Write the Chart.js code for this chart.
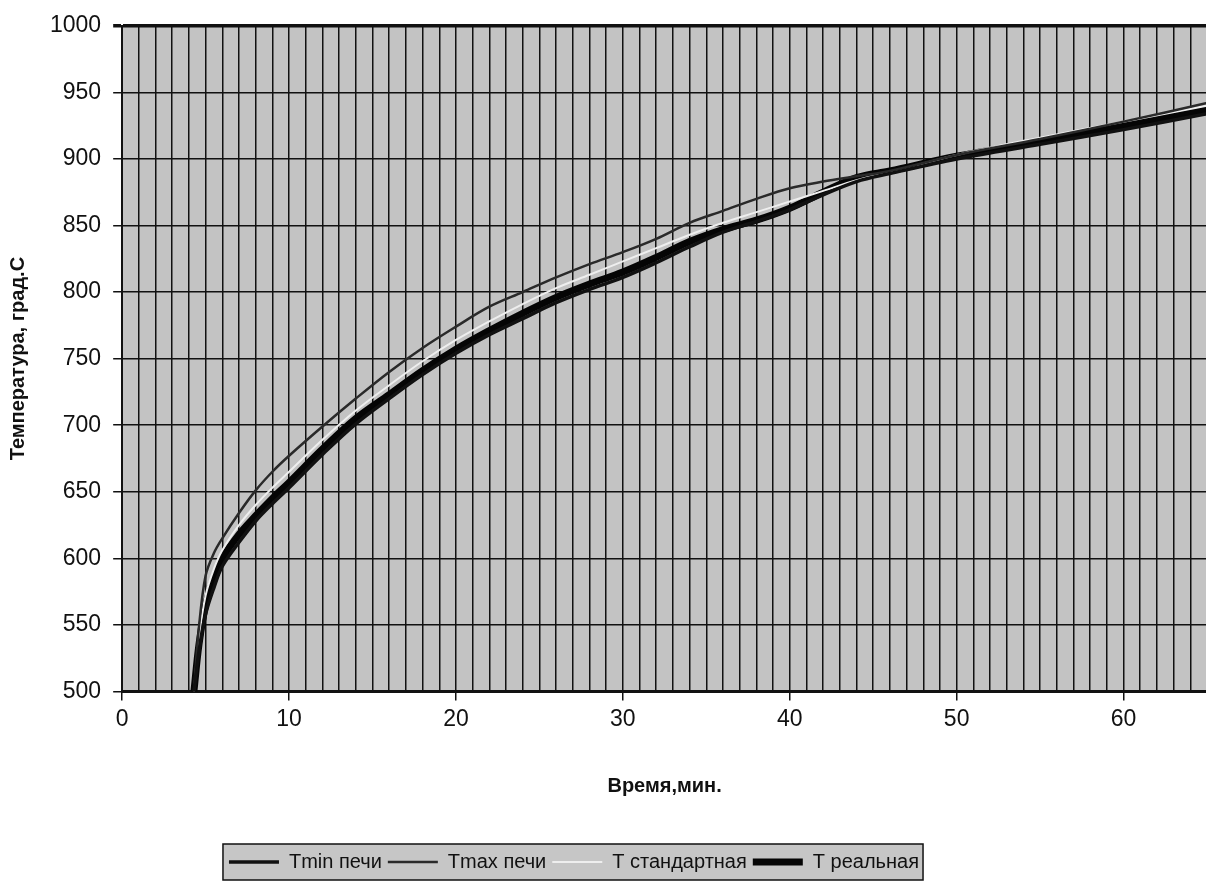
<!DOCTYPE html>
<html>
<head>
<meta charset="utf-8">
<title>Температура печи</title>
<script src="https://cdn.jsdelivr.net/npm/chart.js@4/dist/chart.umd.min.js"></script>
<style>
  html, body { margin: 0; padding: 0; background: #fff; overflow: hidden; }
  /* the original is cropped on the right, so the canvas runs a few px past the window */
  #wrap { width: 1212px; height: 888px; position: relative; }
</style>
</head>
<body>
<div id="wrap"><canvas id="tempChart"></canvas></div>
<script>
// Time, min
const minutes = [4.3, 4.6, 5, 5.5, 6, 7, 8, 9, 10, 12, 14, 16, 18, 20, 22, 24, 26, 28, 30, 32, 34, 36, 38, 40, 42, 44, 46, 50, 55, 60, 65];

// Temperatures, deg C
const tMinPechi = [500, 530, 558, 578, 594, 612, 628, 641, 653, 678, 701, 720, 738, 754, 768, 780, 792, 802, 811, 822, 834, 845, 853, 862, 873, 883, 889, 900, 911, 922, 934];
const tMaxPechi = [500, 548, 587, 604, 615, 634, 651, 665, 677, 699, 720, 740, 758, 774, 789, 800, 811, 821, 830, 840, 852, 861, 870, 878, 883, 887, 891, 903, 915, 928, 942];
const tStandard = [500, 540, 572, 592, 606, 625, 640, 653, 665, 689, 711, 730, 748, 764, 778, 791, 803, 813, 823, 833, 843, 852, 860, 868, 876, 884, 890, 903, 916, 928, 940];
const tReal = [500, 535, 565, 585, 600, 618, 632, 645, 657, 682, 705, 723, 741, 757, 771, 784, 796, 806, 815, 826, 838, 847, 854, 863, 875, 886, 891, 902, 913, 925, 937];

const seriesNames = ["Tmin печи", "Tmax печи", "T стандартная", "T реальная"];

const toPoints = arr => arr.map((v, i) => ({ x: minutes[i], y: v }));

const fontFamily = "'Liberation Sans', Arial, sans-serif";

// gray plot background + frame round the legend
const backdrop = {
  id: "backdrop",
  afterLayout(chart) {
    // legend sits a bit left of the page centre in the original
    chart.legend.right -= 70;
  },
  beforeDraw(chart) {
    const { ctx, chartArea } = chart;
    ctx.save();
    ctx.fillStyle = "#c3c3c3";
    ctx.fillRect(chartArea.left, chartArea.top, chartArea.right - chartArea.left, chartArea.bottom - chartArea.top);

    const boxes = chart.legend.legendHitBoxes;
    if (boxes && boxes.length) {
      const x0 = Math.min(...boxes.map(b => b.left)) - 6;
      const x1 = Math.max(...boxes.map(b => b.left + b.width)) + 4;
      const y0 = Math.min(...boxes.map(b => b.top)) - 8;
      const y1 = Math.max(...boxes.map(b => b.top + b.height)) + 8;
      ctx.fillStyle = "#c6c6c6";
      ctx.fillRect(x0, y0, x1 - x0, y1 - y0);
      ctx.strokeStyle = "#111";
      ctx.lineWidth = 1.5;
      ctx.strokeRect(x0, y0, x1 - x0, y1 - y0);
    }
    ctx.restore();
  }
};

new Chart(document.getElementById("tempChart"), {
  type: "line",
  data: {
    datasets: [
      {
        label: seriesNames[0],
        data: toPoints(tMinPechi),
        borderColor: "#111111",
        borderWidth: 3.5
      },
      {
        label: seriesNames[1],
        data: toPoints(tMaxPechi),
        borderColor: "#2a2a2a",
        borderWidth: 2.5
      },
      {
        label: seriesNames[2],
        data: toPoints(tStandard),
        borderColor: "#eeeeee",
        borderWidth: 2
      },
      {
        label: seriesNames[3],
        data: toPoints(tReal),
        borderColor: "#050505",
        borderWidth: 7
      }
    ]
  },
  options: {
    responsive: true,
    maintainAspectRatio: false,
    animation: false,
    layout: {
      padding: { top: 8, right: 0, bottom: 6, left: 6 }
    },
    elements: {
      point: { radius: 0 },
      line: { tension: 0.35, fill: false }
    },
    plugins: {
      legend: {
        position: "bottom",
        labels: {
          usePointStyle: true,
          pointStyle: "line",
          pointStyleWidth: 50,
          boxHeight: 10,
          padding: 6,
          color: "#111",
          font: { family: fontFamily, size: 20 }
        }
      },
      tooltip: { enabled: false }
    },
    scales: {
      x: {
        type: "linear",
        min: 0,
        max: 65,
        border: { color: "#111", width: 3 },
        grid: {
          color: "#111",
          lineWidth: 1.5,
          drawTicks: true,
          tickLength: 9,
          tickColor: ctx => (ctx.tick && ctx.tick.value % 10 === 0 ? "#111" : "rgba(0,0,0,0)")
        },
        ticks: {
          stepSize: 1,
          autoSkip: false,
          maxRotation: 0,
          padding: 5,
          color: "#111",
          font: { family: fontFamily, size: 23 },
          callback: v => (v % 10 === 0 ? String(v) : "")
        },
        title: {
          display: true,
          text: "Время,мин.",
          color: "#111",
          font: { family: fontFamily, size: 20, weight: "bold" },
          padding: { top: 36, bottom: 48 }
        }
      },
      y: {
        min: 500,
        max: 1000,
        border: { color: "#111", width: 2 },
        grid: {
          color: "#111",
          lineWidth: ctx => (ctx.tick && ctx.tick.value === 1000 ? 3.5 : 1.5),
          tickLength: 9
        },
        ticks: {
          stepSize: 50,
          padding: 12,
          color: "#111",
          font: { family: fontFamily, size: 23 },
          callback: v => String(v)
        },
        title: {
          display: true,
          text: "Температура, град.С",
          color: "#111",
          font: { family: fontFamily, size: 20, weight: "bold" },
          padding: { top: 0, bottom: 8 }
        }
      }
    }
  },
  plugins: [backdrop]
});
</script>
</body>
</html>
